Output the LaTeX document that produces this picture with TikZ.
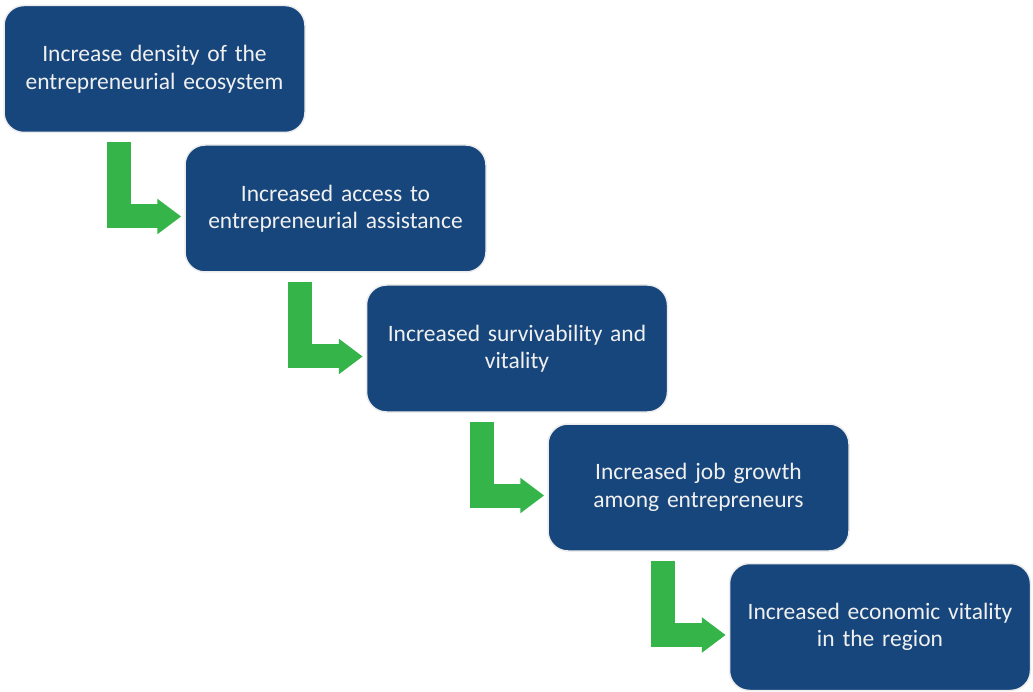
\documentclass[tikz,border=0pt]{standalone}
\usepackage{fontspec}
\setmainfont{Carlito}
\usepackage{tikz}
\usetikzlibrary{arrows.meta, calc}
\definecolor{stageblue}{RGB}{23, 70, 124}
\definecolor{stagegreen}{RGB}{53, 180, 74}

\tikzset{
  stagebox/.style={draw=gray!15, line width=1.5pt, fill=stageblue, rounded corners=20pt,
    minimum width=301pt, minimum height=127pt, text width=290pt, align=center,
    text=white!94!black, font=\fontsize{23.5}{27.5}\selectfont},
  bentarrow/.style={draw=stagegreen, line width=24pt, -{Triangle[width=34pt, length=24pt]}}
}

\begin{document}
\begin{tikzpicture}[x=1pt, y=1pt]
  \useasboundingbox (0, 0) rectangle (1033, -692);

  \node[stagebox] (density) at (154.5, -69) {Increase density of the\\entrepreneurial ecosystem};
  \node[stagebox] (access) at (335.5, -208.5) {Increased access to\\entrepreneurial assistance};
  \node[stagebox] (survival) at (517, -348.5) {Increased survivability and\\vitality};
  \node[stagebox] (jobs) at (698.5, -487.5) {Increased job growth\\among entrepreneurs};
  \node[stagebox] (economy) at (880, -627) {Increased economic vitality\\in the region};

  \draw[bentarrow] ([xshift=116pt, yshift=-9pt]density.south west) |- ([xshift=-3pt, yshift=-8pt]access.west);
  \draw[bentarrow] ([xshift=116pt, yshift=-9pt]access.south west) |- ([xshift=-3pt, yshift=-8pt]survival.west);
  \draw[bentarrow] ([xshift=116pt, yshift=-9pt]survival.south west) |- ([xshift=-3pt, yshift=-8pt]jobs.west);
  \draw[bentarrow] ([xshift=116pt, yshift=-9pt]jobs.south west) |- ([xshift=-3pt, yshift=-8pt]economy.west);
\end{tikzpicture}
\end{document}
